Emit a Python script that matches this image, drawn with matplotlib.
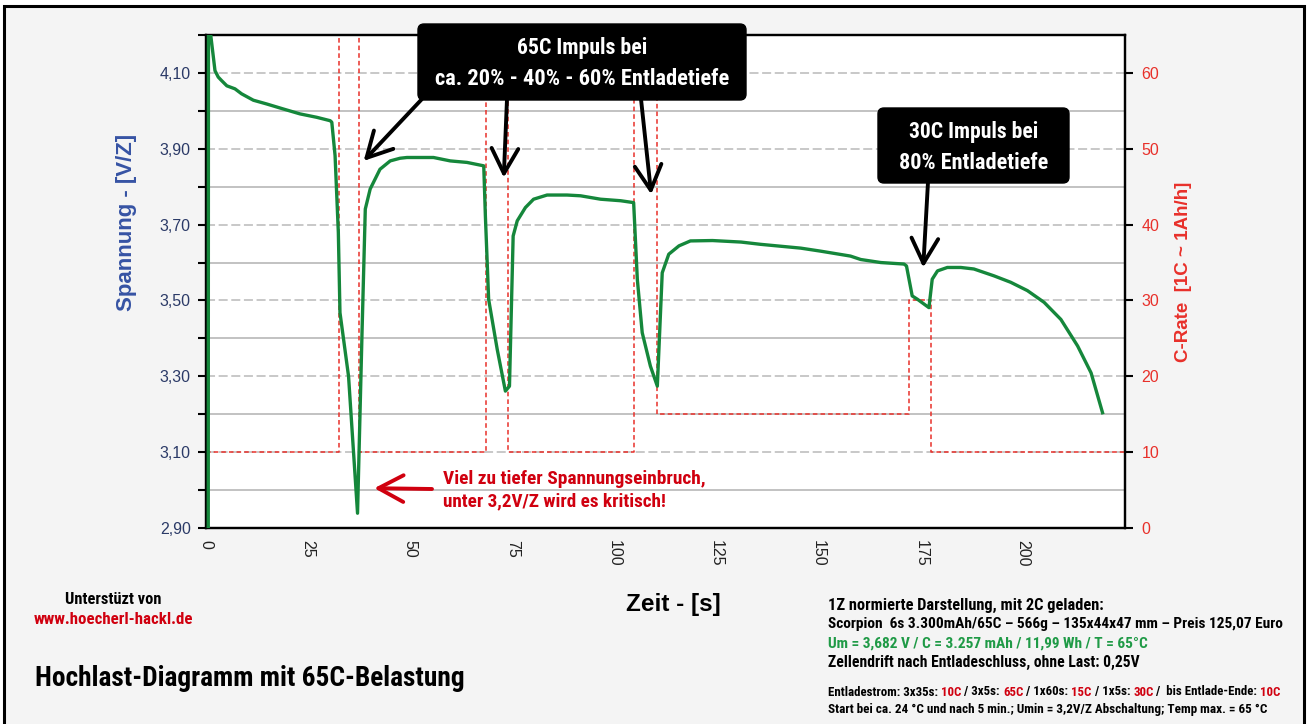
import matplotlib
matplotlib.use('Agg')
import matplotlib.pyplot as plt
from matplotlib.patches import FancyBboxPatch, Rectangle
from matplotlib.transforms import IdentityTransform

# --- data ---
zeit = [0.55, 0.6, 2.2, 3.0, 3.8, 5.1, 7.1, 8.7, 11.6, 14.9, 18.9, 23.0, 27.1,
        30.4, 30.8, 31.6, 32.4, 32.8, 34.9, 37.1, 38.2, 39.0, 40.2, 42.6, 45.1,
        47.5, 49.2, 55.7, 59.8, 63.9, 68.0, 68.4, 69.2, 71.3, 73.3, 74.3, 75.2,
        76.2, 78.2, 80.2, 83.5, 88.4, 91.7, 96.6, 101.5, 104.7, 105.6, 106.8,
        108.8, 110.5, 111.7, 113.3, 115.8, 118.6, 124.0, 131.0, 135.8, 145.6,
        150.5, 157.8, 160.3, 165.2, 170.9, 171.5, 172.9, 174.2, 177.0, 177.8,
        179.1, 181.5, 184.8, 188.0, 192.9, 197.0, 201.1, 205.2, 209.3, 213.4,
        216.7, 219.5]
spannung = [2.80, 4.25, 4.106, 4.089, 4.080, 4.066, 4.058, 4.045, 4.028, 4.018,
            4.005, 3.992, 3.983, 3.974, 3.970, 3.882, 3.679, 3.468, 3.300, 2.939,
            3.415, 3.741, 3.794, 3.846, 3.868, 3.875, 3.877, 3.877, 3.868, 3.864,
            3.855, 3.723, 3.503, 3.371, 3.261, 3.274, 3.670, 3.710, 3.745, 3.767,
            3.778, 3.778, 3.776, 3.767, 3.763, 3.758, 3.556, 3.415, 3.327, 3.274,
            3.573, 3.622, 3.644, 3.657, 3.658, 3.654, 3.648, 3.638, 3.630, 3.617,
            3.608, 3.600, 3.596, 3.591, 3.512, 3.503, 3.481, 3.556, 3.578, 3.587,
            3.587, 3.583, 3.565, 3.548, 3.526, 3.495, 3.450, 3.380, 3.309, 3.204]

crate_zeit = [0, 32.5, 37.5, 68.5, 74.0, 104.7, 110.4, 172.1, 177.4, 225]
crate = [10, 65, 10, 65, 10, 65, 15, 30, 10, 10]

volt_ticks = [2.9, 3.1, 3.3, 3.5, 3.7, 3.9, 4.1]
volt_labels = ['2,90', '3,10', '3,30', '3,50', '3,70', '3,90', '4,10']
volt_minor = [3.0, 3.2, 3.4, 3.6, 3.8, 4.0, 4.2]
zeit_ticks = [0, 25, 50, 75, 100, 125, 150, 175, 200]
zeit_minor = [12.5, 37.5, 62.5, 87.5, 112.5, 137.5, 162.5, 187.5, 212.5]
crate_ticks = [0, 10, 20, 30, 40, 50, 60]
crate_minor = [5, 15, 25, 35, 45, 55, 65]

W, H = 1311, 724
NARROW = ['Roboto Condensed', 'Liberation Sans Narrow', 'Liberation Sans', 'DejaVu Sans']
ARIAL = ['Liberation Sans', 'DejaVu Sans']
GREEN = '#15873b'
RED = '#e8302a'
DARKRED = '#d0000f'


def fx(x):
    return x / W


def fy(y):
    return 1 - y / H


fig = plt.figure(figsize=(W / 100, H / 100), dpi=100, facecolor='white')
fig.add_artist(Rectangle((4, -10), 1300, H - 6 + 10, transform=IdentityTransform(),
                         facecolor='#f4f4f4', edgecolor='black', lw=2.2, zorder=-10))
renderer = fig.canvas.get_renderer()

ax = fig.add_axes([fx(206), fy(528), (1125 - 206) / W, (528 - 35) / H])
ax2 = ax.twinx()
ax.set_zorder(2)
ax2.set_zorder(1)
ax.patch.set_visible(False)
ax2.patch.set_visible(True)
ax2.patch.set_facecolor('white')

ax.plot(zeit, spannung, color=GREEN, lw=2.4, solid_joinstyle='round', zorder=5)
ax2.plot(crate_zeit, crate, drawstyle='steps-post', color=RED, lw=1.1,
         ls=(0, (3, 2)), clip_on=False, zorder=3)

ax.set_xlim(0, 225)
ax.set_ylim(2.9, 4.2)
ax2.set_ylim(0, 65)

ax.set_xticks(zeit_ticks, [str(z) for z in zeit_ticks], rotation=270,
              family=ARIAL, fontsize=11.5, color='#222222')
ax.set_xticks(zeit_minor, minor=True)
ax.set_yticks(volt_ticks, volt_labels, family=ARIAL, fontsize=11.5)
ax.set_yticks(volt_minor, minor=True)
ax.tick_params(axis='x', which='both', length=0, pad=9)
ax.tick_params(axis='y', which='both', direction='out', length=6, width=1.5,
               labelcolor='#2b3a67', pad=5)
ax2.set_yticks(crate_ticks, [str(c) for c in crate_ticks], family=ARIAL, fontsize=11.5)
ax2.set_yticks(crate_minor, minor=True)
ax2.tick_params(axis='y', direction='out', length=6, width=1.5, labelcolor=RED, pad=6)
ax2.tick_params(axis='y', which='minor', length=0)

# grid sits on the lower axes so the red dashed line stays on top of it
ax2.set_axisbelow(True)
ax2.grid(axis='x', which='both', ls=(0, (4, 2)), color='#c8c8c8', lw=1)
ax2.grid(axis='y', which='minor', ls='-', color='#bdbdbd', lw=1.3)
ax2.grid(axis='y', which='major', ls=(0, (5, 2)), color='#c4c4c4', lw=1.3)
for a in (ax, ax2):
    for s in a.spines.values():
        s.set_linewidth(1.6)
        s.set_color('black')

# axis titles
fig.text(fx(127), fy(222), 'Spannung - [V/Z]', rotation=90, ha='center', va='center',
         family=ARIAL, weight='bold', fontsize=16, color='#3653a4')
fig.text(fx(1183), fy(272), 'C-Rate  [1C ~ 1Ah/h]', rotation=90, ha='center', va='center',
         family=ARIAL, weight='bold', fontsize=13.5, color=RED)
fig.text(fx(673), fy(604), 'Zeit - [s]', ha='center', va='center',
         family=ARIAL, weight='bold', fontsize=17.5, color='black')


def fit_text(x, y, s, target_w, ha='left', **kw):
    # size the text so that it spans the same width as in the reference
    t = fig.text(fx(x), fy(y), s, ha=ha, va='center', family=NARROW, weight='bold',
                 fontsize=10, **kw)
    w = t.get_window_extent(renderer).width
    t.set_fontsize(10 * target_w / w)
    return t


# black callout boxes
def callout(x0, y0, x1, y1, lines, ys, widths):
    fig.add_artist(FancyBboxPatch((x0, H - y1), x1 - x0, y1 - y0,
                                  boxstyle='round,pad=0,rounding_size=6',
                                  transform=IdentityTransform(), facecolor='black',
                                  edgecolor='black', zorder=10))
    for line, y, w in zip(lines, ys, widths):
        fit_text((x0 + x1) / 2, y, line, w, ha='center', color='white', zorder=11)


def arrow(tip, start, color='black'):
    ax.annotate('', xy=tip, xycoords='data', xytext=(start[0], H - start[1]),
                textcoords='figure pixels', annotation_clip=False, zorder=12,
                arrowprops=dict(arrowstyle='->,head_length=0.9,head_width=0.48',
                                mutation_scale=20, lw=2.8, color=color,
                                shrinkA=0, shrinkB=0))


callout(418, 24, 746, 100, ['65C Impuls bei', 'ca. 20% - 40% - 60% Entladetiefe'],
        [48, 79], [130, 295])
callout(878, 108, 1069, 183, ['30C Impuls bei', '80% Entladetiefe'], [132, 163], [130, 149])
arrow((38.6, 3.868), (422, 99))
arrow((72.9, 3.824), (507, 99))
arrow((109.0, 3.780), (641, 99))
arrow((175.6, 3.587), (928, 182))
arrow((41.2, 3.005), (432, 489), color=DARKRED)

fit_text(443, 479, 'Viel zu tiefer Spannungseinbruch,', 262, color=DARKRED)
fit_text(443, 501, 'unter 3,2V/Z wird es kritisch!', 224, color=DARKRED)

# footer texts
fit_text(113, 600, 'Unterstüzt von', 96, ha='center', color='black')
fit_text(113, 619, 'www.hoecherl-hackl.de', 159, ha='center', color=DARKRED)
fit_text(35, 678, 'Hochlast-Diagramm mit 65C-Belastung', 430, color='black')

info = [
    ('1Z normierte Darstellung, mit 2C geladen:', 'black', 605, 275),
    ('Scorpion  6s 3.300mAh/65C – 566g – 135x44x47 mm – Preis 125,07 Euro', 'black', 624, 457),
    ('Um = 3,682 V / C = 3.257 mAh / 11,99 Wh / T = 65°C', '#1f9a46', 644, 320),
    ('Zellendrift nach Entladeschluss, ohne Last: 0,25V', 'black', 662, 310),
]
for txt, col, y, w in info:
    fit_text(828, y, txt, w, color=col)


def width(s, size):
    t = fig.text(0, 0, s, family=NARROW, weight='bold', fontsize=size)
    w = t.get_window_extent(renderer).width
    t.remove()
    return w


def colored_line(x, y, parts, target_w):
    size = 10 * target_w / width(''.join(p for p, _ in parts), 10)
    full = ''
    bar = width('|', size)
    for s, col in parts:
        lead = len(s) - len(s.lstrip())
        pre = full + s[:lead]
        off = width(pre + '|', size) - bar if pre else 0
        fig.text(fx(x + off), fy(y), s.strip(), ha='left', va='center', family=NARROW,
                 weight='bold', fontsize=size, color=col)
        full += s


colored_line(828, 692, [('Entladestrom: 3x35s: ', 'black'), ('10C', DARKRED),
                        (' / 3x5s: ', 'black'), ('65C', DARKRED),
                        (' / 1x60s: ', 'black'), ('15C', DARKRED),
                        (' / 1x5s: ', 'black'), ('30C', DARKRED),
                        (' /  bis Entlade-Ende: ', 'black'), ('10C', DARKRED)], 454)
fit_text(828, 709, 'Start bei ca. 24 °C und nach 5 min.; Umin = 3,2V/Z Abschaltung; Temp max. = 65 °C',
         440, color='black')

fig.savefig('out.png', dpi=100, facecolor='white')
